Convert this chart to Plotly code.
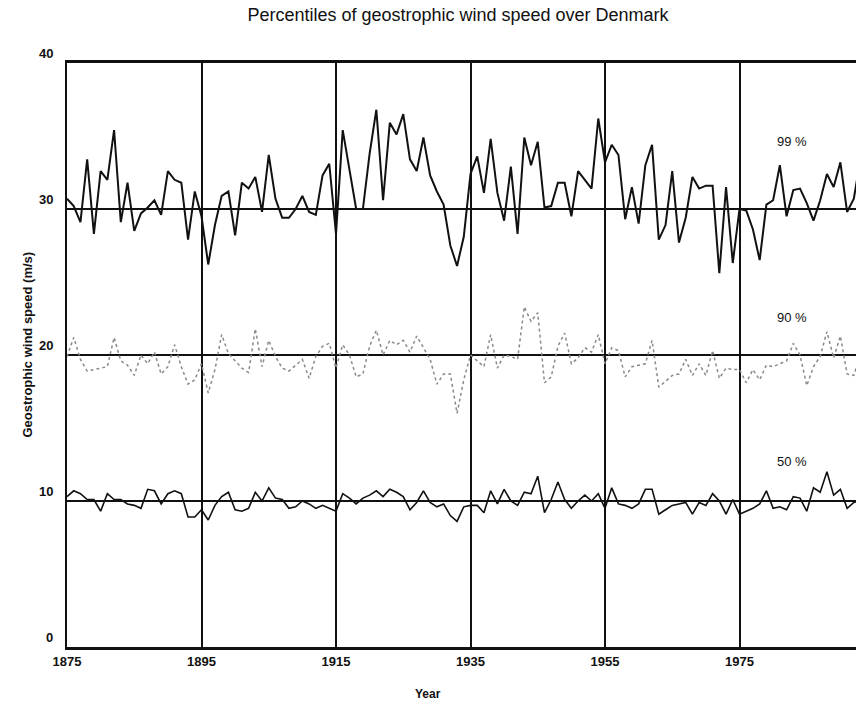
import plotly.graph_objects as go

years = list(range(1875, 1994))

p99 = [30.7, 30.2, 29.1, 33.4, 28.3, 32.6, 32.0, 35.4, 29.1, 31.8,
       28.5, 29.7, 30.1, 30.6, 29.6, 32.6, 32.0, 31.8, 27.9, 31.2,
       29.5, 26.2, 28.9, 30.9, 31.2, 28.2, 31.8, 31.4, 32.2, 29.8,
       33.7, 30.7, 29.4, 29.4, 30.0, 30.9, 29.8, 29.6, 32.3, 33.1,
       28.3, 35.4, 32.7, 30.0, 30.0, 33.8, 36.8, 30.6, 35.9, 35.1,
       36.5, 33.4, 32.6, 34.9, 32.3, 31.2, 30.3, 27.5, 26.1, 28.1,
       32.4, 33.6, 31.1, 34.8, 31.1, 29.2, 32.9, 28.3, 34.9, 33.0,
       34.6, 30.1, 30.2, 31.8, 31.8, 29.5, 32.6, 32.0, 31.4, 36.2,
       33.2, 34.4, 33.7, 29.3, 31.5, 29.0, 33.0, 34.4, 27.9, 28.9,
       32.6, 27.7, 29.4, 32.2, 31.4, 31.6, 31.6, 25.6, 31.5, 26.3,
       30.0, 29.9, 28.6, 26.5, 30.3, 30.6, 33.0, 29.5, 31.3, 31.4,
       30.4, 29.2, 30.6, 32.4, 31.5, 33.2, 29.8, 30.7, 33.5]

p90 = [19.9, 21.2, 19.7, 18.9, 19.0, 19.1, 19.2, 21.2, 19.6, 19.3,
       18.6, 20.0, 19.4, 20.2, 18.7, 19.2, 20.7, 19.2, 18.0, 18.3,
       19.4, 17.4, 19.0, 21.4, 20.1, 19.6, 19.1, 18.8, 21.8, 19.2,
       21.0, 19.9, 19.1, 18.9, 19.3, 19.7, 18.4, 19.9, 20.6, 20.8,
       19.1, 20.7, 20.0, 18.5, 18.7, 20.6, 21.7, 20.0, 21.0, 20.7,
       21.0, 20.2, 21.3, 20.5, 19.7, 18.0, 18.7, 18.7, 16.0, 18.3,
       20.0, 19.6, 19.2, 21.4, 19.1, 20.0, 19.9, 19.7, 23.3, 22.3,
       22.9, 18.1, 18.5, 20.6, 21.5, 19.4, 19.8, 20.5, 20.2, 21.4,
       19.4, 20.5, 20.3, 18.5, 19.2, 19.3, 19.4, 21.0, 17.8, 18.2,
       18.6, 18.7, 19.7, 18.6, 19.4, 18.6, 20.3, 18.4, 19.1, 19.0,
       19.0, 18.1, 19.0, 18.3, 19.3, 19.2, 19.4, 19.6, 20.8, 20.0,
       17.9, 19.2, 19.9, 21.6, 19.8, 21.3, 18.7, 18.6, 20.1]

p50 = [10.3, 10.7, 10.5, 10.1, 10.1, 9.3, 10.5, 10.1, 10.1, 9.8,
       9.7, 9.5, 10.8, 10.7, 9.8, 10.5, 10.7, 10.5, 8.9, 8.9,
       9.4, 8.7, 9.7, 10.3, 10.6, 9.4, 9.3, 9.5, 10.6, 10.0,
       10.9, 10.2, 10.1, 9.5, 9.6, 10.0, 9.8, 9.5, 9.7, 9.5,
       9.3, 10.5, 10.2, 9.8, 10.2, 10.4, 10.7, 10.3, 10.8, 10.6,
       10.3, 9.4, 9.9, 10.7, 9.9, 9.6, 9.8, 9.0, 8.6, 9.6,
       9.7, 9.7, 9.2, 10.7, 9.8, 10.8, 10.0, 9.7, 10.6, 10.5,
       11.7, 9.2, 10.1, 11.3, 10.1, 9.5, 10.0, 10.4, 10.0, 10.5,
       9.5, 10.9, 9.8, 9.7, 9.5, 9.8, 10.8, 10.8, 9.1, 9.4,
       9.7, 9.8, 9.9, 9.1, 9.9, 9.7, 10.5, 10.0, 9.1, 10.1,
       9.1, 9.3, 9.5, 9.8, 10.7, 9.5, 9.6, 9.4, 10.3, 10.2,
       9.3, 10.9, 10.6, 12.0, 10.4, 10.8, 9.5, 9.9, 10.0]

series_names = ["99 %", "90 %", "50 %"]
label_year = 1982.8
label_values = [34.6, 22.6, 12.7]
y_ticks = [0, 10, 20, 30, 40]
x_ticks = [1875, 1895, 1915, 1935, 1955, 1975]

FONT = "Liberation Sans, Arial, sans-serif"

fig = go.Figure()
fig.add_trace(go.Scatter(x=years, y=p99, mode="lines", name=series_names[0],
                         line=dict(color="#111111", width=2), cliponaxis=True))
fig.add_trace(go.Scatter(x=years, y=p90, mode="lines", name=series_names[1],
                         line=dict(color="#8a8a8a", width=1.5, dash="dot"), cliponaxis=True))
fig.add_trace(go.Scatter(x=years, y=p50, mode="lines", name=series_names[2],
                         line=dict(color="#111111", width=1.6), cliponaxis=True))

annotations = []
for name, v in zip(series_names, label_values):
    annotations.append(dict(x=label_year, y=v, xref="x", yref="y", text=name,
                            showarrow=False, font=dict(family=FONT, size=13, color="#111")))
for t in y_ticks:
    annotations.append(dict(x=0, y=t, xref="paper", yref="y", text=str(t),
                            showarrow=False, xanchor="right", xshift=-12, yshift=10,
                            font=dict(family=FONT, size=13, color="#111", weight="bold")))
annotations.append(dict(x=(17 - 67) / 789, y=(647 - 345) / 584, xref="paper", yref="paper",
                        text="Geostrophic wind speed (m/s)", textangle=-90, showarrow=False,
                        font=dict(family=FONT, size=13, color="#111", weight="bold")))
annotations.append(dict(x=(428 - 67) / 789, y=(647 - 703) / 584, xref="paper", yref="paper",
                        text="Year", showarrow=False,
                        font=dict(family=FONT, size=12, color="#111", weight="bold")))

fig.update_layout(
    width=856, height=715,
    margin=dict(l=67, r=0, t=63, b=68),
    paper_bgcolor="white", plot_bgcolor="white",
    showlegend=False,
    title=dict(text="Percentiles of geostrophic wind speed over Denmark",
               x=458 / 856, xanchor="center", y=1 - 15 / 715, yanchor="middle",
               yref="container",
               font=dict(family=FONT, size=18, color="#111")),
    annotations=annotations,
)
fig.update_xaxes(range=[1875, 1875 + 789 / 6.725], tickvals=x_ticks,
                 ticktext=[str(v) for v in x_ticks],
                 showgrid=True, gridcolor="#111", gridwidth=2,
                 showline=True, linecolor="#111", linewidth=3, mirror=True,
                 ticks="", zeroline=False,
                 tickfont=dict(family=FONT, size=13, color="#111", weight="bold"))
fig.update_yaxes(range=[0, 40], tickvals=y_ticks, showticklabels=False,
                 showgrid=True, gridcolor="#111", gridwidth=2,
                 showline=True, linecolor="#111", linewidth=2, mirror=False,
                 ticks="", zeroline=False)

fig.write_html("out.html")
